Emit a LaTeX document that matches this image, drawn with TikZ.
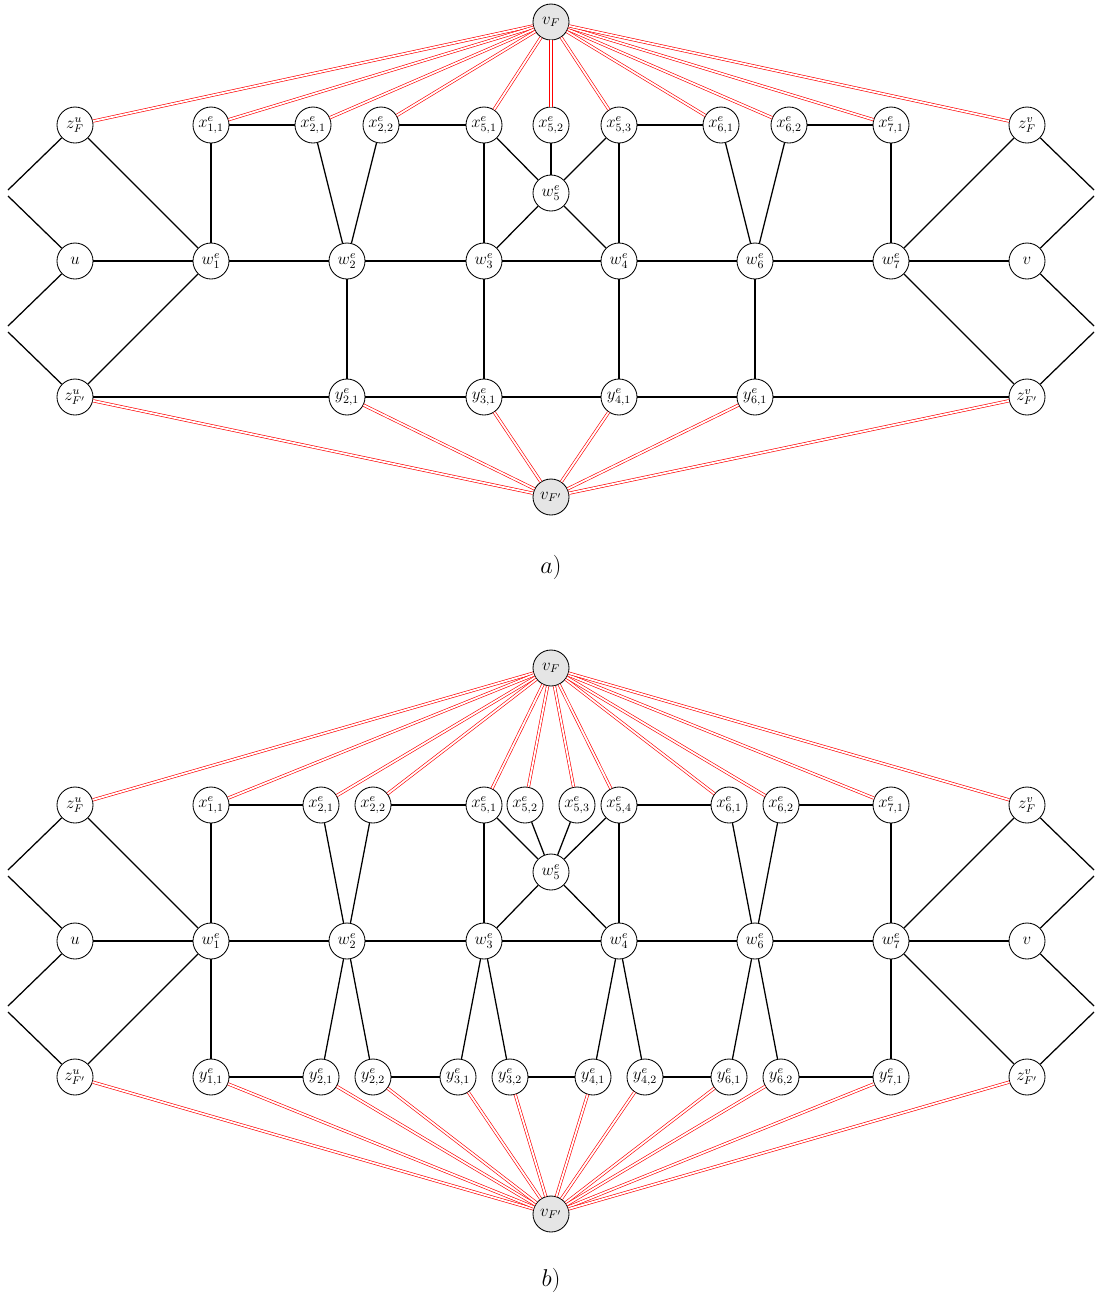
\documentclass[tikz,border=0pt]{standalone}
\usepackage{amsmath,amssymb}
\usepackage{xcolor}
\usepackage{tikz}
\usetikzlibrary{calc}
\tikzstyle{vertex} = [circle, draw=black, line width=0.6pt, fill=white, minimum size=0.9cm, inner sep=0pt, font=\large]
\tikzstyle{special} = [vertex, fill=black!10]
\tikzstyle{edge} = [line width=0.9pt]
\tikzstyle{redge} = [draw=red, line width=0.45pt, double=white, double distance=1.3pt]

\begin{document}
\begin{tikzpicture}[x=0.025cm, y=-0.025cm]
\useasboundingbox (0,0) rectangle (1096,1298);

% ---------- a) ----------
\node (avf) [special] at (551,22) {$v_F$};
\node (azfu) [vertex] at (75,125) {$z^u_F$};
\node (ax11) [vertex] at (211,125) {$x^e_{1,1}$};
\node (ax21) [vertex] at (313,125) {$x^e_{2,1}$};
\node (ax22) [vertex] at (381,125) {$x^e_{2,2}$};
\node (ax51) [vertex] at (484,125) {$x^e_{5,1}$};
\node (ax52) [vertex] at (551,125) {$x^e_{5,2}$};
\node (ax53) [vertex] at (619,125) {$x^e_{5,3}$};
\node (ax61) [vertex] at (721,125) {$x^e_{6,1}$};
\node (ax62) [vertex] at (789,125) {$x^e_{6,2}$};
\node (ax71) [vertex] at (891,125) {$x^e_{7,1}$};
\node (azfv) [vertex] at (1027,125) {$z^v_F$};
\node (aw5) [vertex] at (551,193) {$w^e_5$};
\node (au) [vertex] at (75,261) {$u$};
\node (aw1) [vertex] at (211,261) {$w^e_1$};
\node (aw2) [vertex] at (347,261) {$w^e_2$};
\node (aw3) [vertex] at (484,261) {$w^e_3$};
\node (aw4) [vertex] at (619,261) {$w^e_4$};
\node (aw6) [vertex] at (755,261) {$w^e_6$};
\node (aw7) [vertex] at (891,261) {$w^e_7$};
\node (av) [vertex] at (1027,261) {$v$};
\node (azgu) [vertex] at (75,397) {$z^u_{F'}$};
\node (ay21) [vertex] at (347,397) {$y^e_{2,1}$};
\node (ay31) [vertex] at (484,397) {$y^e_{3,1}$};
\node (ay41) [vertex] at (619,397) {$y^e_{4,1}$};
\node (ay61) [vertex] at (755,397) {$y^e_{6,1}$};
\node (azgv) [vertex] at (1027,397) {$z^v_{F'}$};
\node (avg) [special] at (551,497) {$v_{F'}$};
\node (alabel) at (551,567) {\LARGE $a)$};

\coordinate (al1) at (8,190);
\coordinate (al2) at (8,196);
\coordinate (al3) at (8,326);
\coordinate (al4) at (8,332);
\coordinate (ar1) at (1094,190);
\coordinate (ar2) at (1094,196);
\coordinate (ar3) at (1094,326);
\coordinate (ar4) at (1094,332);

\draw [edge] (azfu) -- (al1);
\draw [edge] (au) -- (al2);
\draw [edge] (au) -- (al3);
\draw [edge] (azgu) -- (al4);
\draw [edge] (azfv) -- (ar1);
\draw [edge] (av) -- (ar2);
\draw [edge] (av) -- (ar3);
\draw [edge] (azgv) -- (ar4);

\draw [edge] (au) -- (aw1) -- (aw2) -- (aw3) -- (aw4) -- (aw6) -- (aw7) -- (av);
\draw [edge] (azfu) -- (aw1);
\draw [edge] (azgu) -- (aw1);
\draw [edge] (ax11) -- (aw1);
\draw [edge] (ax11) -- (ax21);
\draw [edge] (ax21) -- (aw2);
\draw [edge] (ax22) -- (aw2);
\draw [edge] (ax22) -- (ax51);
\draw [edge] (ax51) -- (aw3);
\draw [edge] (ax51) -- (aw5);
\draw [edge] (ax52) -- (aw5);
\draw [edge] (ax53) -- (aw5);
\draw [edge] (ax53) -- (aw4);
\draw [edge] (ax53) -- (ax61);
\draw [edge] (aw5) -- (aw3);
\draw [edge] (aw5) -- (aw4);
\draw [edge] (ax61) -- (aw6);
\draw [edge] (ax62) -- (aw6);
\draw [edge] (ax62) -- (ax71);
\draw [edge] (ax71) -- (aw7);
\draw [edge] (azfv) -- (aw7);
\draw [edge] (azgv) -- (aw7);
\draw [edge] (aw2) -- (ay21);
\draw [edge] (aw3) -- (ay31);
\draw [edge] (aw4) -- (ay41);
\draw [edge] (aw6) -- (ay61);
\draw [edge] (azgu) -- (ay21) -- (ay31) -- (ay41) -- (ay61) -- (azgv);

\draw [redge] (avf) -- (azfu);
\draw [redge] (avf) -- (ax11);
\draw [redge] (avf) -- (ax21);
\draw [redge] (avf) -- (ax22);
\draw [redge] (avf) -- (ax51);
\draw [redge] (avf) -- (ax52);
\draw [redge] (avf) -- (ax53);
\draw [redge] (avf) -- (ax61);
\draw [redge] (avf) -- (ax62);
\draw [redge] (avf) -- (ax71);
\draw [redge] (avf) -- (azfv);
\draw [redge] (avg) -- (azgu);
\draw [redge] (avg) -- (ay21);
\draw [redge] (avg) -- (ay31);
\draw [redge] (avg) -- (ay41);
\draw [redge] (avg) -- (ay61);
\draw [redge] (avg) -- (azgv);

% ---------- b) ----------
\node (bvf) [special] at (551,668) {$v_F$};
\node (bzfu) [vertex] at (75,805) {$z^u_F$};
\node (bx11) [vertex] at (211,805) {$x^e_{1,1}$};
\node (bx21) [vertex] at (321,805) {$x^e_{2,1}$};
\node (bx22) [vertex] at (373,805) {$x^e_{2,2}$};
\node (bx51) [vertex] at (484,805) {$x^e_{5,1}$};
\node (bx52) [vertex] at (525,805) {$x^e_{5,2}$};
\node (bx53) [vertex] at (577,805) {$x^e_{5,3}$};
\node (bx54) [vertex] at (619,805) {$x^e_{5,4}$};
\node (bx61) [vertex] at (729,805) {$x^e_{6,1}$};
\node (bx62) [vertex] at (781,805) {$x^e_{6,2}$};
\node (bx71) [vertex] at (891,805) {$x^e_{7,1}$};
\node (bzfv) [vertex] at (1027,805) {$z^v_F$};
\node (bw5) [vertex] at (551,872) {$w^e_5$};
\node (bu) [vertex] at (75,941) {$u$};
\node (bw1) [vertex] at (211,941) {$w^e_1$};
\node (bw2) [vertex] at (347,941) {$w^e_2$};
\node (bw3) [vertex] at (484,941) {$w^e_3$};
\node (bw4) [vertex] at (619,941) {$w^e_4$};
\node (bw6) [vertex] at (755,941) {$w^e_6$};
\node (bw7) [vertex] at (891,941) {$w^e_7$};
\node (bv) [vertex] at (1027,941) {$v$};
\node (bzgu) [vertex] at (75,1077) {$z^u_{F'}$};
\node (by11) [vertex] at (211,1077) {$y^e_{1,1}$};
\node (by21) [vertex] at (321,1077) {$y^e_{2,1}$};
\node (by22) [vertex] at (373,1077) {$y^e_{2,2}$};
\node (by31) [vertex] at (458,1077) {$y^e_{3,1}$};
\node (by32) [vertex] at (510,1077) {$y^e_{3,2}$};
\node (by41) [vertex] at (593,1077) {$y^e_{4,1}$};
\node (by42) [vertex] at (645,1077) {$y^e_{4,2}$};
\node (by61) [vertex] at (729,1077) {$y^e_{6,1}$};
\node (by62) [vertex] at (781,1077) {$y^e_{6,2}$};
\node (by71) [vertex] at (891,1077) {$y^e_{7,1}$};
\node (bzgv) [vertex] at (1027,1077) {$z^v_{F'}$};
\node (bvg) [special] at (551,1214) {$v_{F'}$};
\node (blabel) at (551,1280) {\LARGE $b)$};

\coordinate (bl1) at (8,870);
\coordinate (bl2) at (8,876);
\coordinate (bl3) at (8,1006);
\coordinate (bl4) at (8,1012);
\coordinate (br1) at (1094,870);
\coordinate (br2) at (1094,876);
\coordinate (br3) at (1094,1006);
\coordinate (br4) at (1094,1012);

\draw [edge] (bzfu) -- (bl1);
\draw [edge] (bu) -- (bl2);
\draw [edge] (bu) -- (bl3);
\draw [edge] (bzgu) -- (bl4);
\draw [edge] (bzfv) -- (br1);
\draw [edge] (bv) -- (br2);
\draw [edge] (bv) -- (br3);
\draw [edge] (bzgv) -- (br4);

\draw [edge] (bu) -- (bw1) -- (bw2) -- (bw3) -- (bw4) -- (bw6) -- (bw7) -- (bv);
\draw [edge] (bzfu) -- (bw1);
\draw [edge] (bzgu) -- (bw1);
\draw [edge] (bx11) -- (bw1);
\draw [edge] (bx11) -- (bx21);
\draw [edge] (bx21) -- (bw2);
\draw [edge] (bx22) -- (bw2);
\draw [edge] (bx22) -- (bx51);
\draw [edge] (bx51) -- (bw3);
\draw [edge] (bx51) -- (bw5);
\draw [edge] (bx52) -- (bw5);
\draw [edge] (bx53) -- (bw5);
\draw [edge] (bx54) -- (bw5);
\draw [edge] (bx54) -- (bw4);
\draw [edge] (bx54) -- (bx61);
\draw [edge] (bw5) -- (bw3);
\draw [edge] (bw5) -- (bw4);
\draw [edge] (bx61) -- (bw6);
\draw [edge] (bx62) -- (bw6);
\draw [edge] (bx62) -- (bx71);
\draw [edge] (bx71) -- (bw7);
\draw [edge] (bzfv) -- (bw7);
\draw [edge] (bzgv) -- (bw7);
\draw [edge] (bw1) -- (by11);
\draw [edge] (bw2) -- (by21);
\draw [edge] (bw2) -- (by22);
\draw [edge] (bw3) -- (by31);
\draw [edge] (bw3) -- (by32);
\draw [edge] (bw4) -- (by41);
\draw [edge] (bw4) -- (by42);
\draw [edge] (bw6) -- (by61);
\draw [edge] (bw6) -- (by62);
\draw [edge] (bw7) -- (by71);
\draw [edge] (by11) -- (by21);
\draw [edge] (by22) -- (by31);
\draw [edge] (by32) -- (by41);
\draw [edge] (by42) -- (by61);
\draw [edge] (by62) -- (by71);

\draw [redge] (bvf) -- (bzfu);
\draw [redge] (bvf) -- (bx11);
\draw [redge] (bvf) -- (bx21);
\draw [redge] (bvf) -- (bx22);
\draw [redge] (bvf) -- (bx51);
\draw [redge] (bvf) -- (bx52);
\draw [redge] (bvf) -- (bx53);
\draw [redge] (bvf) -- (bx54);
\draw [redge] (bvf) -- (bx61);
\draw [redge] (bvf) -- (bx62);
\draw [redge] (bvf) -- (bx71);
\draw [redge] (bvf) -- (bzfv);
\draw [redge] (bvg) -- (bzgu);
\draw [redge] (bvg) -- (by11);
\draw [redge] (bvg) -- (by21);
\draw [redge] (bvg) -- (by22);
\draw [redge] (bvg) -- (by31);
\draw [redge] (bvg) -- (by32);
\draw [redge] (bvg) -- (by41);
\draw [redge] (bvg) -- (by42);
\draw [redge] (bvg) -- (by61);
\draw [redge] (bvg) -- (by62);
\draw [redge] (bvg) -- (by71);
\draw [redge] (bvg) -- (bzgv);
\end{tikzpicture}
\end{document}
